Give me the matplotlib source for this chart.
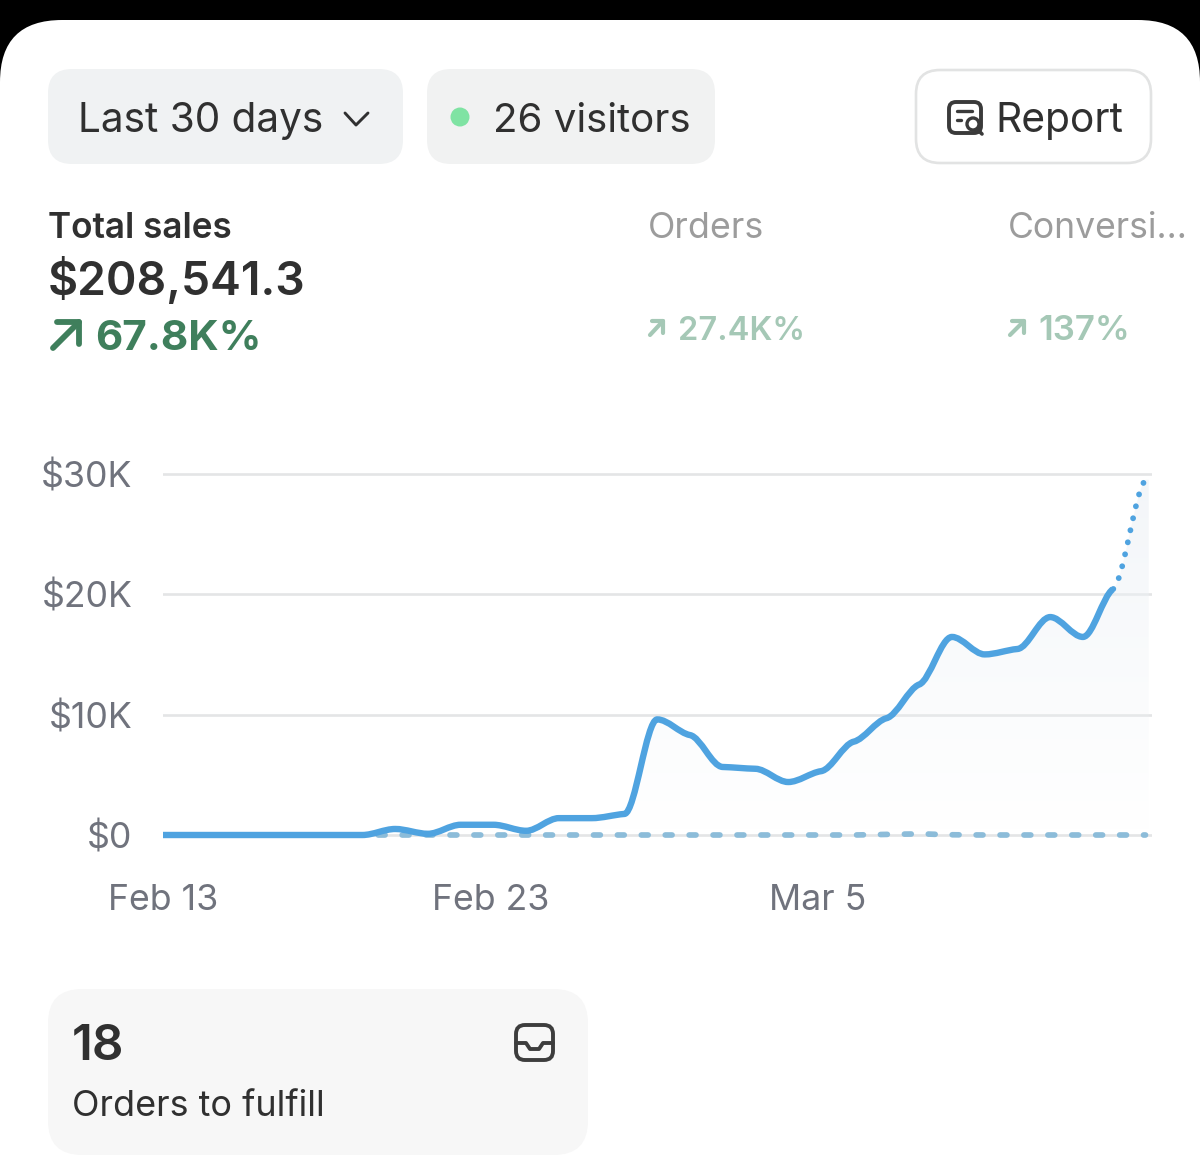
import matplotlib
matplotlib.use("Agg")
import matplotlib.pyplot as plt
import numpy as np
from matplotlib.patches import FancyBboxPatch, PathPatch, Circle
from matplotlib.path import Path

# Sales per day, index 0 = Feb 13
sales = [0, 0, 0, 0, 0, 0, 0, 500, 100, 850, 850, 350, 1400, 1400, 1750, 9600,
         8300, 5650, 5500, 4400, 5300, 7750, 9700, 12500, 16450, 15000, 15450,
         18100, 16450, 20400, 29500]
previous = [0] * 22 + [50, 90, 20] + [0] * 6
y_ticks = [0, 10000, 20000, 30000]
y_labels = ["$0", "$10K", "$20K", "$30K"]
x_ticks = [0, 10, 20]
x_labels = ["Feb 13", "Feb 23", "Mar 5"]
last_full_day = 29

W, H = 1200, 1172
INK = "#303030"
GREY = "#70737d"
BLUE = "#4fa3e0"
FAINT_GREEN = "#a5c8b6"
plt.rcParams['font.family'] = ['Inter', 'DejaVu Sans']

fig = plt.figure(figsize=(W / 100, H / 100), dpi=100, facecolor="black")
ui = fig.add_axes([0, 0, 1, 1], zorder=1)
ui.set_xlim(0, W)
ui.set_ylim(H, 0)
ui.axis("off")


def box(x0, y0, x1, y1, r, fc, ec="none", lw=0):
    ui.add_patch(FancyBboxPatch((x0 + r, y0 + r), x1 - x0 - 2 * r, y1 - y0 - 2 * r,
                                boxstyle=f"round,pad={r},rounding_size={r}",
                                fc=fc, ec=ec, lw=lw))


def label(x, y, s, size, color=INK, weight="normal", **kw):
    ui.text(x, y, s, fontsize=size, color=color, fontweight=weight, va="baseline", **kw)


def stroke(xs, ys, color, lw):
    ui.plot(xs, ys, color=color, lw=lw, solid_capstyle="round", solid_joinstyle="round")


def arrow(x0, y0, x1, y1, color, lw):
    stroke([x0, x1], [y0, y1], color, lw)
    stroke([x1 - (x1 - x0) * 0.85, x1, x1], [y1, y1, y1 + (y0 - y1) * 0.85], color, lw)


# Card on the black screen
box(0, 20, W, H + 120, 62, "white")

# Top buttons
box(48, 69, 403, 164, 24, "#f0f2f3")
box(427, 69, 715, 164, 24, "#f1f2f2")
box(916, 70, 1151, 163, 24, "white", "#e2e3e3", 1.9)
label(78, 132, "Last 30 days", 29.2)
stroke([345, 356, 368], [113, 125, 113], INK, 2.1)
ui.add_patch(Circle((460, 117), 9.5, fc="#7fe3a3", ec="none"))
label(493, 132, "26 visitors", 29)
label(995, 132, "Report", 29.3)
# report icon
box(949, 102, 981, 133, 7, "white", "#3a3a3a", 2.8)
stroke([957, 972], [111, 111], "#3a3a3a", 2.4)
stroke([957, 961], [120, 120], "#3a3a3a", 2.4)
ui.add_patch(Circle((973, 124), 6, fc="white", ec="#3a3a3a", lw=2.4))
stroke([977, 982], [129, 134], "#3a3a3a", 2.6)

# Metrics
label(48, 238, "Total sales", 25.3, weight="semibold")
label(48, 295, "$208,541.3", 33.3, weight="semibold")
label(95, 350, "67.8K%", 30.4, "#3f7f5c", weight="bold")
arrow(53, 348, 79, 322, "#3f7f5c", 4.2)
label(648, 238, "Orders", 25.8, "#9c9c9c")
label(1008, 238, "Conversi...", 25.6, "#9c9c9c")
label(678, 340, "27.4K%", 23.5, FAINT_GREEN, weight="semibold")
arrow(650, 335, 663, 321, FAINT_GREEN, 3)
label(1038, 340, "137%", 25, FAINT_GREEN, weight="semibold")
arrow(1010, 335, 1024, 321, FAINT_GREEN, 3)

# Bottom card
box(48, 989, 588, 1155, 34, "#f7f7f7")
label(72, 1060, "18", 35.5, weight="semibold")
label(72, 1116, "Orders to fulfill", 25.9)
box(516, 1025, 553, 1060, 9, "#f7f7f7", "#3d3d3d", 2.8)
stroke([516, 526, 530, 539, 543, 553], [1043, 1043, 1049, 1049, 1043, 1043], "#3d3d3d", 2.8)

# Chart axes, pixel box 163..1152 / 465..845
day_px = 32.75
px_per_dollar = 120.4 / 10000
ax = fig.add_axes([163 / W, 1 - 845 / H, (1152 - 163) / W, 380 / H], zorder=2)
ax.patch.set_alpha(0)
for s in ax.spines.values():
    s.set_visible(False)
ax.set_xticks(x_ticks, x_labels)
ax.set_yticks(y_ticks, y_labels)
ax.tick_params(length=0, labelcolor=GREY, labelsize=25.7)
ax.tick_params(axis="y", pad=22)
ax.tick_params(axis="x", pad=28)
for v in y_ticks:
    ax.axhline(v, color="#e4e5e6", lw=1.9, zorder=1)


def slopes(y):
    # monotone tangents kept short, so the line sits flat around each day
    d = np.diff(y)
    m = np.zeros(len(y))
    for i in range(1, len(y) - 1):
        if d[i - 1] * d[i] > 0:
            m[i] = 2 * d[i - 1] * d[i] / (d[i - 1] + d[i])
    m[0], m[-1] = d[0], d[-1]
    return m * 0.3


def day_x(i):
    # the drawn line sits a little right of the day grid, except at both ends
    return i + 0.09 if 0 < i < last_full_day else i


def curve(y, start=0, end=None):
    y = np.asarray(y, dtype=float)
    m = slopes(y)
    end = len(y) - 1 if end is None else end
    verts = [(day_x(start), y[start])]
    for i in range(start, end):
        x0, x1 = day_x(i), day_x(i + 1)
        h = x1 - x0
        verts += [(x0 + h / 3, y[i] + m[i] / 3), (x1 - h / 3, y[i + 1] - m[i + 1] / 3),
                  (x1, y[i + 1])]
    codes = [Path.MOVETO] + [Path.CURVE4] * (len(verts) - 1)
    return verts, codes


# Soft area under the sales line
verts, codes = curve(sales)
area = Path(verts + [(30.1, sales[-1]), (30.1, 0), (0, 0), (0, 0)],
            codes + [Path.LINETO, Path.LINETO, Path.LINETO, Path.CLOSEPOLY])
clip = PathPatch(area, fc="none", ec="none", transform=ax.transData)
ax.add_patch(clip)
shade = np.zeros((64, 1, 4))
shade[..., :3] = matplotlib.colors.to_rgb("#eef2f6")
shade[..., 3] = np.linspace(0.7, 0, 64)[:, None]
im = ax.imshow(shade, extent=(0, 30.1, 0, 30000), origin="upper", aspect="auto", zorder=1.5)
im.set_clip_path(clip)
ax.set_xlim(0, (1152 - 163) / day_px)
ax.set_ylim(-10 / px_per_dollar, 370 / px_per_dollar)

# Comparison period, dashed
verts, codes = curve(previous)
ax.add_patch(PathPatch(Path(verts, codes), fc="none", ec="#8cbcd9", lw=4.1, capstyle="round",
                       linestyle=(0, (1.2, 3.0)), zorder=2))
# Sales, solid until the last full day then dotted
verts, codes = curve(sales, 0, last_full_day)
ax.add_patch(PathPatch(Path(verts, codes), fc="none", ec=BLUE, lw=4.6, capstyle="butt",
                       joinstyle="round", zorder=3))
verts, codes = curve(sales, last_full_day)
ax.add_patch(PathPatch(Path(verts, codes), fc="none", ec=BLUE, lw=4.2, capstyle="round",
                       linestyle=(2.0, (0.01, 2.1)), zorder=3))

fig.savefig("out.png", dpi=100, facecolor="black")
